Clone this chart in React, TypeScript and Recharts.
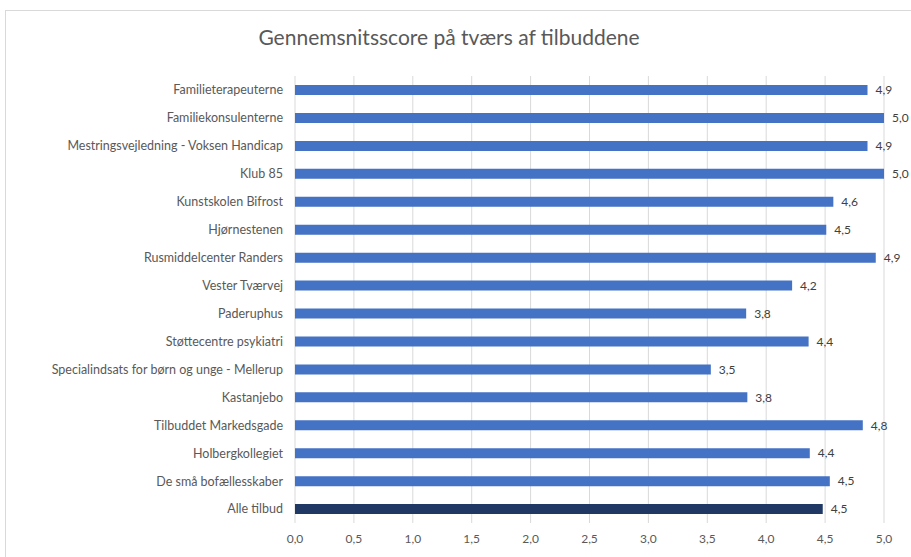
import { BarChart, Bar, XAxis, YAxis, CartesianGrid, Cell, LabelList } from "recharts";

// categories top to bottom
const categories = [
  "Familieterapeuterne",
  "Familiekonsulenterne",
  "Mestringsvejledning - Voksen Handicap",
  "Klub 85",
  "Kunstskolen Bifrost",
  "Hjørnestenen",
  "Rusmiddelcenter Randers",
  "Vester Tværvej",
  "Paderuphus",
  "Støttecentre psykiatri",
  "Specialindsats for børn og unge - Mellerup",
  "Kastanjebo",
  "Tilbuddet Markedsgade",
  "Holbergkollegiet",
  "De små bofællesskaber",
  "Alle tilbud",
];

const scores = [4.86, 5.0, 4.86, 5.0, 4.57, 4.51, 4.93, 4.22, 3.83, 4.36, 3.53, 3.84, 4.82, 4.37, 4.54, 4.48];

const xTicks = [0, 0.5, 1, 1.5, 2, 2.5, 3, 3.5, 4, 4.5, 5];

const TITLE = "Gennemsnitsscore på tværs af tilbuddene";
const TOTAL_LABEL = "Alle tilbud";

const FONT = "Lato, 'Open Sans', sans-serif";
const fmt = (v: number) => v.toFixed(1).replace(".", ",");

export default function App() {
  const data = categories.map((name, i) => ({ name, score: scores[i] }));

  return (
    <div style={{ position: "absolute", left: 0, top: 0, width: 911, height: 557, background: "#fff", overflow: "hidden", fontFamily: FONT }}>
      {/* chart frame, only top/left visible in the crop */}
      <div style={{ position: "absolute", left: 5, top: 10, width: 940, height: 600, border: "1px solid #d9d9d9" }} />
      <div
        style={{
          position: "absolute", left: 0, top: 24, width: 898, textAlign: "center",
          fontSize: 21, color: "#595959", fontWeight: 400,
        }}
      >
        {TITLE}
      </div>
      <BarChart
        width={911}
        height={557}
        data={data}
        layout="vertical"
        margin={{ top: 76, right: 27, bottom: 10, left: 0 }}
        barCategoryGap={0}
        style={{ position: "absolute", left: 0, top: 0 }}
      >
        <CartesianGrid horizontal={false} stroke="#d9d9d9" />
        <XAxis
          type="number"
          domain={[0, 5]}
          ticks={xTicks}
          tickFormatter={fmt}
          axisLine={false}
          tickLine={false}
          tickMargin={5}
          height={24}
          tick={{ fill: "#595959", fontSize: 12, fontFamily: FONT }}
        />
        <YAxis
          type="category"
          dataKey="name"
          width={295}
          axisLine={false}
          tickLine={false}
          tickMargin={6}
          interval={0}
          tick={{ fill: "#595959", fontSize: 12.5, fontFamily: FONT }}
        />
        <Bar dataKey="score" barSize={10} isAnimationActive={false}>
          {data.map((d) => (
            <Cell key={d.name} fill={d.name === TOTAL_LABEL ? "#1f3864" : "#4472c4"} />
          ))}
          <LabelList
            dataKey="score"
            position="right"
            offset={8}
            formatter={(v: any) => fmt(Number(v))}
            style={{ fill: "#404040", fontSize: 12, fontFamily: FONT }}
          />
        </Bar>
      </BarChart>
    </div>
  );
}
